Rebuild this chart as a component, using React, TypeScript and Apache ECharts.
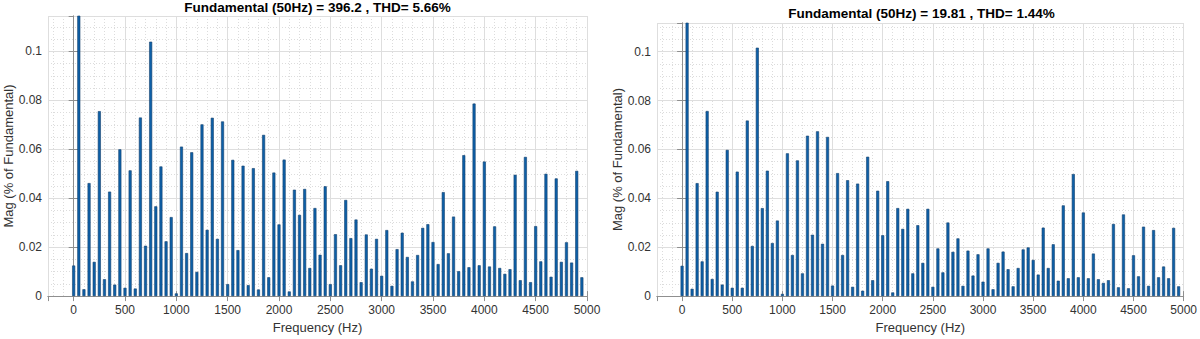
import React, { useEffect, useRef } from 'react';
import * as echarts from 'echarts';

const LEFT_TITLE = 'Fundamental (50Hz) = 396.2 , THD= 5.66%';
const RIGHT_TITLE = 'Fundamental (50Hz) = 19.81 , THD= 1.44%';
const X_NAME = 'Frequency (Hz)';
const Y_NAME = 'Mag (% of Fundamental)';

// harmonic spacing (Hz): bar i sits at i * 50 Hz
const HARMONIC_STEP_HZ = 50;
const FUNDAMENTAL_PCT = 100;

// Left panel magnitudes, 0 Hz .. 4950 Hz
const LEFT_MAG = [
  0.0125, FUNDAMENTAL_PCT, 0.0028, 0.0462, 0.0140, 0.0756, 0.0069, 0.0427, 0.0047, 0.0600,
  0.0034, 0.0514, 0.0031, 0.0730, 0.0206, 0.1040, 0.0367, 0.0530, 0.0224, 0.0323,
  0.0011, 0.0611, 0.0176, 0.0588, 0.0099, 0.0702, 0.0271, 0.0729, 0.0234, 0.0714,
  0.0049, 0.0557, 0.0188, 0.0533, 0.0045, 0.0523, 0.0027, 0.0659, 0.0077, 0.0505,
  0.0293, 0.0558, 0.0019, 0.0435, 0.0332, 0.0438, 0.0115, 0.0360, 0.0169, 0.0449,
  0.0049, 0.0253, 0.0126, 0.0393, 0.0237, 0.0313, 0.0057, 0.0252, 0.0112, 0.0234,
  0.0083, 0.0270, 0.0042, 0.0192, 0.0259, 0.0160, 0.0060, 0.0168, 0.0279, 0.0294,
  0.0221, 0.0131, 0.0425, 0.0175, 0.0325, 0.0102, 0.0576, 0.0118, 0.0787, 0.0126,
  0.0550, 0.0121, 0.0285, 0.0115, 0.0091, 0.0110, 0.0496, 0.0065, 0.0569, 0.0057,
  0.0286, 0.0142, 0.0500, 0.0079, 0.0481, 0.0140, 0.0220, 0.0137, 0.0512, 0.0077,
];

// Right panel magnitudes, 0 Hz .. 4950 Hz
const RIGHT_MAG = [
  0.0124, FUNDAMENTAL_PCT, 0.0030, 0.0462, 0.0142, 0.0757, 0.0070, 0.0427, 0.0047, 0.0598,
  0.0034, 0.0509, 0.0034, 0.0718, 0.0205, 0.1016, 0.0360, 0.0513, 0.0217, 0.0309,
  0.0009, 0.0584, 0.0168, 0.0555, 0.0093, 0.0656, 0.0251, 0.0674, 0.0214, 0.0651,
  0.0043, 0.0503, 0.0168, 0.0474, 0.0038, 0.0460, 0.0022, 0.0570, 0.0065, 0.0431,
  0.0249, 0.0470, 0.0015, 0.0360, 0.0275, 0.0357, 0.0093, 0.0290, 0.0136, 0.0357,
  0.0038, 0.0195, 0.0097, 0.0301, 0.0181, 0.0236, 0.0042, 0.0186, 0.0084, 0.0171,
  0.0059, 0.0195, 0.0028, 0.0136, 0.0182, 0.0110, 0.0040, 0.0115, 0.0191, 0.0199,
  0.0148, 0.0088, 0.0280, 0.0115, 0.0212, 0.0063, 0.0371, 0.0073, 0.0499, 0.0077,
  0.0342, 0.0073, 0.0174, 0.0069, 0.0054, 0.0065, 0.0295, 0.0036, 0.0334, 0.0032,
  0.0167, 0.0081, 0.0284, 0.0042, 0.0270, 0.0077, 0.0121, 0.0073, 0.0279, 0.0040,
];

const X_MIN = -250;
const X_MAX = 5000;
const LEFT_Y_MAX = 0.1145;
const RIGHT_Y_MAX = 0.1117;
const Y_INTERVAL = 0.02;

const FONT = 'Liberation Sans, Arial, Helvetica, sans-serif';
const TEXT_COLOR = '#333333';
const BORDER_COLOR = '#8f8f8f';
const MAJOR_GRID = '#dedede';
const MINOR_GRID = '#dcdcdc';
const BAR_FILL = '#0d60a8';
const BAR_EDGE = '#143f6c';

const GRIDS = [
  { left: 48, top: 16, width: 539, height: 282 },
  { left: 657, top: 23, width: 529, height: 276 },
];

function toPairs(mags: number[]) {
  return mags.map((v, i) => [i * HARMONIC_STEP_HZ, v]);
}

function bottomX(gridIndex: number) {
  return {
    type: 'value',
    gridIndex,
    position: 'bottom',
    min: X_MIN,
    max: X_MAX,
    splitNumber: 10,
    name: X_NAME,
    nameLocation: 'middle',
    nameGap: 22,
    nameTextStyle: { fontFamily: FONT, fontSize: 13, color: TEXT_COLOR },
    axisLine: { show: true, lineStyle: { color: BORDER_COLOR, width: 1 } },
    axisTick: { show: true, inside: true, length: 5, lineStyle: { color: BORDER_COLOR } },
    axisLabel: {
      show: true,
      showMinLabel: false,
      showMaxLabel: true,
      margin: 8,
      fontFamily: FONT,
      fontSize: 12,
      color: TEXT_COLOR,
      formatter: (v: number) => (v < 0 ? '' : String(v)),
    },
    splitLine: { show: true, lineStyle: { color: MAJOR_GRID, width: 1 } },
    minorTick: { show: false, splitNumber: 5 },
    minorSplitLine: { show: true, lineStyle: { color: MINOR_GRID, width: 1, type: [1, 2] } },
  };
}

function topX(gridIndex: number) {
  return {
    type: 'value',
    gridIndex,
    position: 'top',
    min: X_MIN,
    max: X_MAX,
    splitNumber: 10,
    axisLine: { show: true, lineStyle: { color: BORDER_COLOR, width: 1 } },
    axisTick: { show: true, inside: true, length: 5, lineStyle: { color: BORDER_COLOR } },
    axisLabel: { show: false },
    splitLine: { show: false },
  };
}

function leftY(gridIndex: number, max: number, nameGap: number) {
  return {
    type: 'value',
    gridIndex,
    position: 'left',
    min: 0,
    max,
    interval: Y_INTERVAL,
    name: Y_NAME,
    nameLocation: 'middle',
    nameGap,
    nameRotate: 90,
    nameTextStyle: { fontFamily: FONT, fontSize: 13, color: TEXT_COLOR },
    axisLine: { show: true, lineStyle: { color: BORDER_COLOR, width: 1 } },
    axisTick: { show: true, inside: true, length: 5, lineStyle: { color: BORDER_COLOR } },
    axisLabel: {
      show: true,
      showMaxLabel: false,
      margin: 6,
      fontFamily: FONT,
      fontSize: 12,
      color: TEXT_COLOR,
      formatter: (v: number) => String(+v.toFixed(3)),
    },
    splitLine: { show: true, lineStyle: { color: MAJOR_GRID, width: 1 } },
    minorTick: { show: false, splitNumber: 4 },
    minorSplitLine: { show: true, lineStyle: { color: MINOR_GRID, width: 1, type: [1, 2] } },
  };
}

function rightY(gridIndex: number, max: number) {
  return {
    type: 'value',
    gridIndex,
    position: 'right',
    min: 0,
    max,
    interval: Y_INTERVAL,
    axisLine: { show: true, lineStyle: { color: BORDER_COLOR, width: 1 } },
    axisTick: { show: true, inside: true, length: 5, lineStyle: { color: BORDER_COLOR } },
    axisLabel: { show: false },
    splitLine: { show: false },
  };
}

function barSeries(xAxisIndex: number, yAxisIndex: number, mags: number[]) {
  return {
    type: 'bar',
    xAxisIndex,
    yAxisIndex,
    data: toPairs(mags),
    barWidth: 3,
    clip: true,
    silent: true,
    itemStyle: { color: BAR_FILL, borderColor: BAR_EDGE, borderWidth: 0.6 },
  };
}

export default function App() {
  const ref = useRef<HTMLDivElement>(null);

  useEffect(() => {
    document.body.style.margin = '0';
    if (!ref.current) return;
    const chart = echarts.init(ref.current, undefined, { renderer: 'svg' });
    chart.setOption({
      animation: false,
      backgroundColor: '#ffffff',
      grid: GRIDS.map((g) => ({ ...g, show: false, containLabel: false })),
      xAxis: [bottomX(0), topX(0), bottomX(1), topX(1)],
      yAxis: [
        leftY(0, LEFT_Y_MAX, 30),
        rightY(0, LEFT_Y_MAX),
        leftY(1, RIGHT_Y_MAX, 33),
        rightY(1, RIGHT_Y_MAX),
      ],
      series: [barSeries(0, 0, LEFT_MAG), barSeries(2, 2, RIGHT_MAG)],
      graphic: [
        {
          type: 'text',
          x: GRIDS[0].left + GRIDS[0].width / 2,
          y: 7,
          style: {
            text: LEFT_TITLE,
            fontFamily: FONT,
            fontSize: 13.5,
            fontWeight: 'bold',
            fill: '#000000',
            textAlign: 'center',
            textVerticalAlign: 'middle',
          },
        },
        {
          type: 'text',
          x: GRIDS[1].left + GRIDS[1].width / 2,
          y: 13,
          style: {
            text: RIGHT_TITLE,
            fontFamily: FONT,
            fontSize: 13.5,
            fontWeight: 'bold',
            fill: '#000000',
            textAlign: 'center',
            textVerticalAlign: 'middle',
          },
        },
      ],
    });
    return () => {
      chart.dispose();
    };
  }, []);

  return <div ref={ref} style={{ width: 1200, height: 339 }} />;
}
